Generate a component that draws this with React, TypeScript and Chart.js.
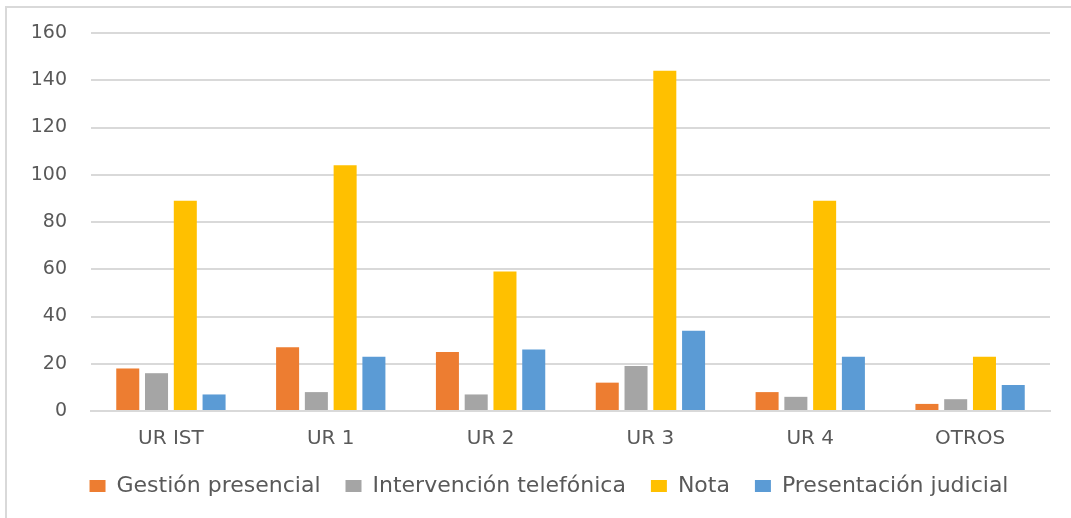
import React, { useEffect, useRef } from "react";
import { Chart, registerables } from "chart.js";

Chart.register(...registerables);

const categories = ["UR IST", "UR 1", "UR 2", "UR 3", "UR 4", "OTROS"];
const gestionPresencial = [18, 27, 25, 12, 8, 3];
const intervencionTelefonica = [16, 8, 7, 19, 6, 5];
const nota = [89, 104, 59, 144, 89, 23];
const presentacionJudicial = [7, 23, 26, 34, 23, 11];
const seriesNames = ["Gestión presencial", "Intervención telefónica", "Nota", "Presentación judicial"];
const seriesColors = ["#ED7D31", "#A5A5A5", "#FFC000", "#5B9BD5"];
const yTicks = { min: 0, max: 160, step: 20 };

const FONT = "'DejaVu Sans', sans-serif";
const TEXT = "#595959";
const GRID = "#d9d9d9";

const frame = {
  id: "frame",
  afterLayout(chart: any) {
    // widen the axis label clip regions so tick labels are not cut off
    if (chart.scales.y) chart.scales.y.left = 0;
    if (chart.scales.x) chart.scales.x.bottom = chart.height;
  },
  beforeDraw(chart: any) {
    const ctx = chart.ctx;
    ctx.save();
    ctx.fillStyle = "#ffffff";
    ctx.fillRect(0, 0, chart.width, chart.height);
    ctx.strokeStyle = GRID;
    ctx.lineWidth = 2;
    ctx.beginPath();
    ctx.moveTo(6, chart.height);
    ctx.lineTo(6, 7);
    ctx.lineTo(chart.width, 7);
    ctx.stroke();
    ctx.restore();
  },
};

export default function App() {
  const ref = useRef<HTMLCanvasElement | null>(null);
  useEffect(() => {
    if (!ref.current) return;
    document.body.style.margin = "0";
    const data = [gestionPresencial, intervencionTelefonica, nota, presentacionJudicial];
    const chart = new Chart(ref.current, {
      type: "bar",
      data: {
        labels: categories,
        datasets: data.map((d, i) => ({
          label: seriesNames[i],
          data: d,
          backgroundColor: seriesColors[i],
          borderWidth: 0,
          categoryPercentage: 0.72,
          barPercentage: 0.8,
        })),
      },
      plugins: [frame],
      options: {
        animation: false,
        responsive: false,
        maintainAspectRatio: false,
        devicePixelRatio: 1,
        layout: { padding: { left: 48, right: 21, top: 33, bottom: 11 } },
        plugins: {
          tooltip: { enabled: false },
          legend: {
            position: "bottom",
            labels: {
              boxWidth: 16,
              boxHeight: 12,
              padding: 25,
              color: TEXT,
              font: { family: FONT, size: 22 },
            },
          },
        },
        scales: {
          x: {
            grid: { display: false, drawTicks: false },
            border: { display: true, color: GRID, width: 2 },
            ticks: { color: TEXT, font: { family: FONT, size: 20 }, padding: 16 },
            afterFit: (scale: any) => {
              scale.height = 39;
              scale.paddingLeft = 0;
              scale.paddingRight = 0;
            },
          },
          y: {
            min: yTicks.min,
            max: yTicks.max,
            grid: { color: GRID, lineWidth: 2, drawTicks: false },
            border: { display: false },
            ticks: {
              stepSize: yTicks.step,
              color: TEXT,
              font: { family: FONT, size: 19 },
              padding: 24,
            },
            afterFit: (scale: any) => {
              scale.width = 43;
              scale.paddingTop = 0;
              scale.paddingBottom = 0;
            },
          },
        },
      },
    });
    return () => chart.destroy();
  }, []);
  return (
    <div style={{ position: "absolute", left: 0, top: 0, width: 1071, height: 518 }}>
      <canvas ref={ref} width={1071} height={518} />
    </div>
  );
}
